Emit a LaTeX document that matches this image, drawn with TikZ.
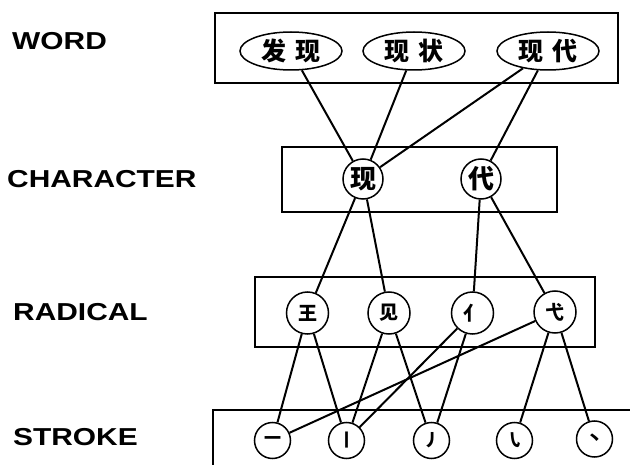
\documentclass[tikz,border=0pt]{standalone}
\usepackage{fontspec}
\usepackage{graphicx}
\setmainfont{Liberation Sans}
\newfontfamily\cjk{Noto Sans CJK SC}
\usetikzlibrary{shapes.geometric}

\tikzset{
  layerlabel/.style={font=\bfseries\fontsize{24.5}{24.5}\selectfont, anchor=west, inner sep=0pt},
  layerbox/.style={draw, line width=2.2pt, inner sep=0pt},
  unit/.style={draw, line width=1.5pt, inner sep=0pt, fill=white},
  wordnode/.style={unit, ellipse, minimum width=102pt, minimum height=38pt,
    font=\cjk\bfseries\fontsize{25}{25}\selectfont},
  charnode/.style={unit, circle, minimum size=40pt,
    font=\cjk\bfseries\fontsize{26}{26}\selectfont},
  radnode/.style={unit, circle, minimum size=42pt,
    font=\cjk\bfseries\fontsize{19}{19}\selectfont},
  strokenode/.style={unit, circle, minimum size=36pt,
    font=\cjk\bfseries\fontsize{17}{17}\selectfont},
  link/.style={line width=2pt},
}
\newcommand{\widelabel}[1]{\scalebox{1.22}[1]{#1}}

\begin{document}
\begin{tikzpicture}[x=1pt, y=-1pt]
  \clip (0,0) rectangle (630,465);
  \fill[white] (0,0) rectangle (630,465);

  % level names on the left
  \node[layerlabel] (lw) at (12,41.5)  {\widelabel{WORD}};
  \node[layerlabel] (lc) at (7,179)    {\widelabel{CHARACTER}};
  \node[layerlabel] (lr) at (13,312)   {\widelabel{RADICAL}};
  \node[layerlabel] (ls) at (13,437)   {\widelabel{STROKE}};

  % level frames
  \node[layerbox, minimum width=403pt, minimum height=70pt] (wordbox) at (416.5,48) {};
  \node[layerbox, minimum width=275pt, minimum height=65pt] (charbox) at (419.5,179.5) {};
  \node[layerbox, minimum width=340pt, minimum height=70pt] (radbox) at (425,312) {};
  \coordinate (sbl) at (213,475);
  \coordinate (str) at (640,410);
  \draw[line width=2.2pt] (sbl) |- (str);

  % words
  \node[wordnode] (w1) at (291,51) {发\hspace{9pt}现};
  \node[wordnode] (w2) at (414,51) {现\hspace{9pt}状};
  \node[wordnode] (w3) at (548,51) {现\hspace{9pt}代};

  % characters
  \node[charnode] (c1) at (363,179) {现};
  \node[charnode] (c2) at (481,179) {代};

  % radicals
  \node[radnode] (r1) at (307.5,313) {王};
  \node[radnode] (r2) at (389,313)   {见};
  \node[radnode] (r3) at (472.5,313) {亻};
  \node[radnode] (r4) at (555,312)   {弋};

  % strokes
  \node[strokenode] (s1) at (272.5,440.5) {一};
  \node[strokenode] (s2) at (346.5,440.5) {丨};
  \node[strokenode] (s3) at (431.5,440.5) {丿};
  \node[strokenode] (s4) at (514.5,440.5) {㇂};
  \node[strokenode] (s5) at (594.5,439)   {丶};

  % word -> character
  \draw[link] (w1) -- (c1);
  \draw[link] (w2) -- (c1);
  \draw[link] (w3) -- (c1);
  \draw[link] (w3) -- (c2);

  % character -> radical
  \draw[link] (c1) -- (r1);
  \draw[link] (c1) -- (r2);
  \draw[link] (c2) -- (r3);
  \draw[link] (c2) -- (r4);

  % radical -> stroke
  \draw[link] (r1) -- (s1);
  \draw[link] (r1) -- (s2);
  \draw[link] (r2) -- (s2);
  \draw[link] (r2) -- (s3);
  \draw[link] (r3) -- (s2);
  \draw[link] (r3) -- (s3);
  \draw[link] (r4) -- (s1);
  \draw[link] (r4) -- (s4);
  \draw[link] (r4) -- (s5);
\end{tikzpicture}
\end{document}
